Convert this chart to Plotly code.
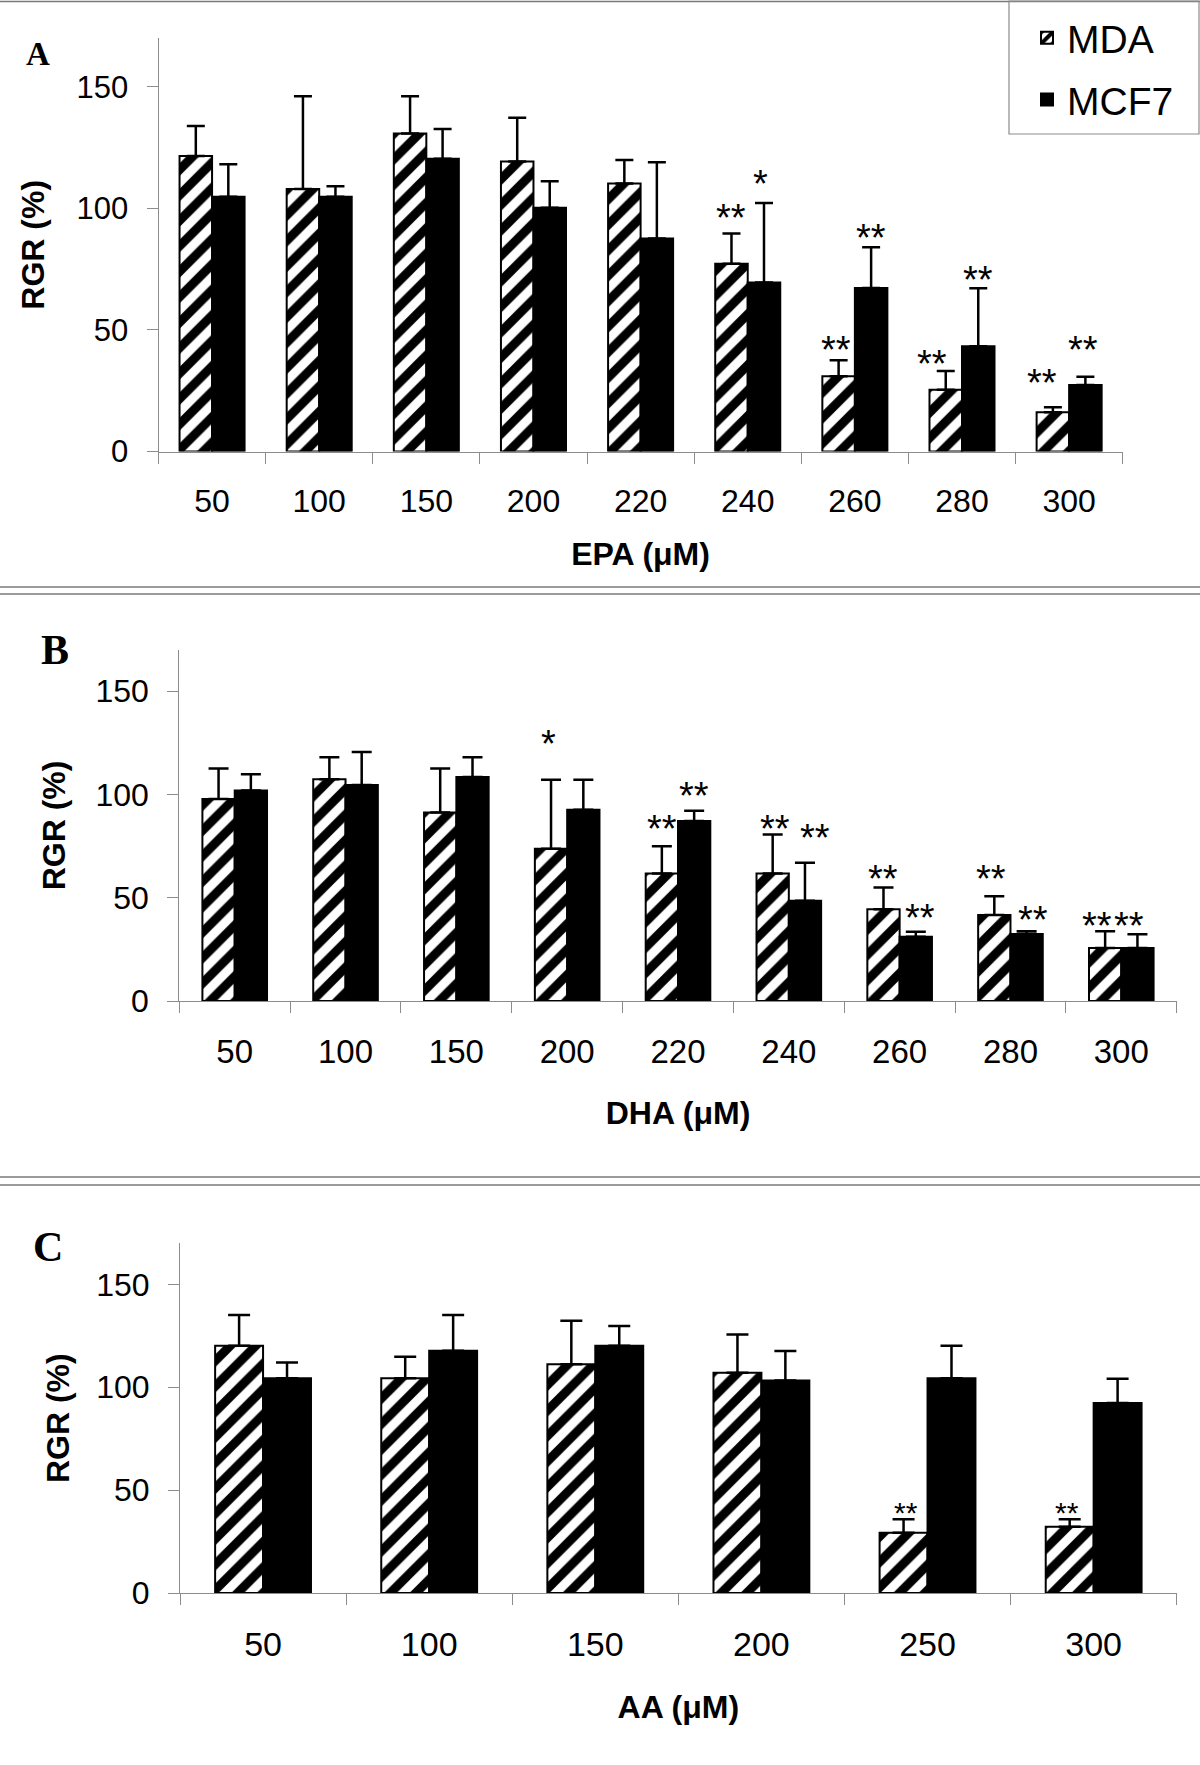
import plotly.graph_objects as go

# ---------------- data ----------------
cats_A = ["50", "100", "150", "200", "220", "240", "260", "280", "300"]
A_mda = [121.5, 107.9, 130.7, 119.2, 110.2, 77.2, 31.0, 25.4, 16.2]
A_mda_sd = [12.3, 38.2, 15.4, 18.0, 9.7, 12.4, 6.5, 7.7, 2.0]
A_mcf = [104.7, 104.7, 120.4, 100.2, 87.6, 69.5, 67.2, 43.3, 27.4]
A_mcf_sd = [13.4, 4.4, 12.2, 10.9, 31.3, 32.7, 16.8, 23.8, 3.4]

cats_B = ["50", "100", "150", "200", "220", "240", "260", "280", "300"]
B_mda = [97.8, 107.4, 91.3, 73.7, 61.7, 61.7, 44.4, 41.7, 25.7]
B_mda_sd = [14.8, 10.6, 21.3, 33.5, 13.3, 18.9, 10.6, 9.0, 8.1]
B_mcf = [102.0, 104.6, 108.5, 92.6, 87.2, 48.5, 31.1, 32.5, 25.7]
B_mcf_sd = [7.8, 16.0, 9.5, 14.6, 5.0, 18.5, 2.5, 1.3, 6.6]

cats_C = ["50", "100", "150", "200", "250", "300"]
C_mda = [120.2, 104.4, 111.2, 107.1, 29.3, 32.2]
C_mda_sd = [14.9, 10.5, 21.1, 18.6, 6.6, 3.7]
C_mcf = [104.4, 117.8, 120.2, 103.3, 104.4, 92.4]
C_mcf_sd = [7.7, 17.3, 9.6, 14.3, 15.8, 11.8]

# significance marks: (category, series, label, y of mark)
A_sig = [("240", "MDA", "**", 99.1), ("240", "MCF7", "*", 113.0),
         ("260", "MDA", "**", 44.8), ("260", "MCF7", "**", 90.6),
         ("280", "MDA", "**", 39.0), ("280", "MCF7", "**", 73.4),
         ("300", "MDA", "**", 31.1), ("300", "MCF7", "**", 44.8)]
B_sig = [("200", "MDA", "*", 128.0), ("220", "MDA", "**", 86.7),
         ("220", "MCF7", "**", 102.8), ("240", "MDA", "**", 86.7),
         ("240", "MCF7", "**", 82.4), ("260", "MDA", "**", 62.6),
         ("260", "MCF7", "**", 43.8), ("280", "MDA", "**", 62.6),
         ("280", "MCF7", "**", 42.6), ("300", "MDA", "**", 39.8),
         ("300", "MCF7", "**", 39.8)]
C_sig = [("250", "MDA", "**", 42.7), ("300", "MDA", "**", 42.7)]

y_ticks = [0, 50, 100, 150]

# ---------------- layout helpers ----------------
W, H = 1200, 1765
FONT = "Liberation Sans, Arial, sans-serif"
SERIF = "Liberation Serif, Times New Roman, serif"
GRAY = "#8c8c8c"

def fx(px):
    return px / W

def fy(px):
    return 1 - px / H

panels = [
    dict(cats=cats_A, mda=A_mda, mda_sd=A_mda_sd, mcf=A_mcf, mcf_sd=A_mcf_sd, sig=A_sig,
         xdom=(158.5, 1122.7), ydom=(451.6, 38.0), bw=0.3035, xtitle="EPA (μM)",
         letter="A", letter_pos=(38, 54), letter_size=33, ytick=31, xtick=32, sigsize=38,
         ystand=22, xstand=24, cap=9,
         sigshift={("240", "MCF7"): -3, ("260", "MDA"): -3, ("280", "MDA"): -14,
                   ("300", "MDA"): -11, ("300", "MCF7"): -2}),
    dict(cats=cats_B, mda=B_mda, mda_sd=B_mda_sd, mcf=B_mcf, mcf_sd=B_mcf_sd, sig=B_sig,
         xdom=(179.3, 1176.7), ydom=(1001.0, 650.0), bw=0.2915, xtitle="DHA (μM)",
         letter="B", letter_pos=(55, 650), letter_size=42, ytick=32, xtick=33, sigsize=38,
         ystand=20, xstand=33, cap=10,
         sigshift={("200", "MDA"): -3, ("240", "MDA"): 2, ("240", "MCF7"): 10,
                   ("260", "MCF7"): 4, ("280", "MCF7"): 6, ("280", "MDA"): -3,
                   ("300", "MDA"): -8, ("300", "MCF7"): -8}),
    dict(cats=cats_C, mda=C_mda, mda_sd=C_mda_sd, mcf=C_mcf, mcf_sd=C_mcf_sd, sig=C_sig,
         xdom=(180.0, 1176.7), ydom=(1593.0, 1243.3), bw=0.2885, xtitle="AA (μM)",
         letter="C", letter_pos=(48, 1247), letter_size=42, ytick=32, xtick=34, sigsize=30,
         ystand=16, xstand=33, cap=11,
         sigshift={("250", "MDA"): 2, ("300", "MDA"): -3}),
]

fig = go.Figure()
annotations = []
layout_axes = {}

for i, p in enumerate(panels):
    n = i + 1
    xa = "x" if n == 1 else f"x{n}"
    ya = "y" if n == 1 else f"y{n}"
    xkey = "xaxis" if n == 1 else f"xaxis{n}"
    ykey = "yaxis" if n == 1 else f"yaxis{n}"
    bw = p["bw"]

    fig.add_trace(go.Bar(
        x=p["cats"], y=p["mda"], name="MDA", xaxis=xa, yaxis=ya,
        width=bw, offset=-bw,
        marker=dict(color="white", line=dict(color="black", width=2),
                    pattern=dict(shape="/", fgcolor="#000000", fgopacity=1,
                                 bgcolor="white", fillmode="replace",
                                 size=18, solidity=0.5)),
        error_y=dict(type="data", array=p["mda_sd"], arrayminus=[0] * len(p["mda"]),
                     symmetric=False, color="black", thickness=2.5, width=p["cap"]),
        legendgroup="MDA", showlegend=(n == 1),
    ))
    fig.add_trace(go.Bar(
        x=p["cats"], y=p["mcf"], name="MCF7", xaxis=xa, yaxis=ya,
        width=bw, offset=0,
        marker=dict(color="black", line=dict(color="black", width=2)),
        error_y=dict(type="data", array=p["mcf_sd"], arrayminus=[0] * len(p["mcf"]),
                     symmetric=False, color="black", thickness=2.5, width=p["cap"]),
        legendgroup="MCF7", showlegend=(n == 1),
    ))

    layout_axes[xkey] = dict(
        domain=[fx(p["xdom"][0]), fx(p["xdom"][1])], anchor=ya, type="category",
        categoryorder="array", categoryarray=p["cats"], automargin=False,
        showline=True, linecolor=GRAY, linewidth=1, ticks="outside", tickson="boundaries",
        ticklen=11, tickcolor=GRAY, tickwidth=1, showgrid=False, zeroline=False,
        tickfont=dict(family=FONT, size=p["xtick"], color="black"), ticklabelstandoff=21,
        title=dict(text=p["xtitle"], standoff=p["xstand"],
                   font=dict(family=FONT, size=32, color="black", weight="bold")),
    )
    layout_axes[ykey] = dict(
        domain=[fy(p["ydom"][0]), fy(p["ydom"][1])], anchor=xa, range=[0, 170],
        automargin=False,
        tickmode="array", tickvals=y_ticks, ticktext=[str(v) for v in y_ticks],
        showline=True, linecolor=GRAY, linewidth=1, ticks="outside", ticklen=11,
        tickcolor=GRAY, tickwidth=1, showgrid=False, zeroline=False,
        tickfont=dict(family=FONT, size=p["ytick"], color="black"), ticklabelstandoff=12,
        title=dict(text="RGR (%)", standoff=p["ystand"],
                   font=dict(family=FONT, size=32, color="black", weight="bold")),
    )

    # panel letter
    lx, ly = p["letter_pos"]
    annotations.append(dict(
        text=p["letter"], xref="paper", yref="paper", x=fx(lx), y=fy(ly),
        xanchor="center", yanchor="middle", showarrow=False,
        font=dict(family=SERIF, size=p["letter_size"], color="black", weight="bold")))

    # significance marks
    for cat, series, label, yv in p["sig"]:
        idx = p["cats"].index(cat)
        xc = idx - bw / 2 if series == "MDA" else idx + bw / 2
        annotations.append(dict(
            text=label, xref=xa, yref=ya, x=xc, y=yv, xanchor="center", yanchor="middle",
            xshift=p["sigshift"].get((cat, series), 0), yshift=-7, showarrow=False,
            font=dict(family=FONT, size=p["sigsize"], color="black")))

shapes = []
for ypx in [1.5, 587, 594, 1177, 1185]:
    shapes.append(dict(type="line", xref="paper", yref="paper", x0=0, x1=1,
                       y0=fy(ypx), y1=fy(ypx), line=dict(color="#7a7a7a", width=1.5)))
shapes.append(dict(type="rect", xref="paper", yref="paper", x0=fx(1009), x1=fx(1199),
                   y0=fy(134), y1=fy(1), line=dict(color="#8c8c8c", width=1.2)))

fig.update_layout(
    width=W, height=H, margin=dict(l=0, r=0, t=0, b=0, pad=0, autoexpand=False),
    paper_bgcolor="white", plot_bgcolor="white", barmode="overlay",
    font=dict(family=FONT, color="black"),
    showlegend=True,
    legend=dict(x=fx(1027), y=fy(6), xanchor="left", yanchor="top",
                font=dict(family=FONT, size=39, color="black"),
                bgcolor="rgba(0,0,0,0)", borderwidth=0, tracegroupgap=8),
    annotations=annotations, shapes=shapes,
    **layout_axes,
)

page_fix = (
    "document.documentElement.style.margin='0';"
    "document.body.style.margin='0';"
    "document.body.style.background='white';"
)
fig.write_html("out.html", config={"displayModeBar": False}, post_script=page_fix)
